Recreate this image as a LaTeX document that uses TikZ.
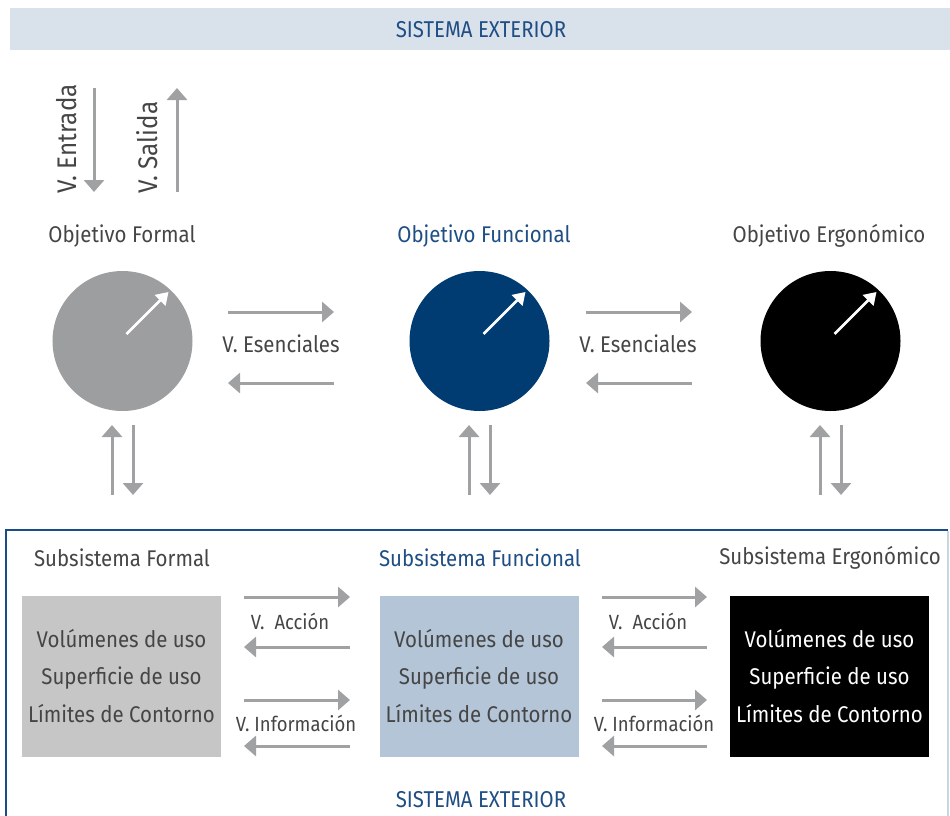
\documentclass[tikz,border=0pt]{standalone}
\usepackage{fontspec}
\setmainfont{Fira Sans}[FakeStretch=0.9]
\newfontfamily\condfont{Fira Sans}[FakeStretch=0.89]
\usetikzlibrary{arrows.meta}
\definecolor{txtgray}{HTML}{454545}
\definecolor{txtblue}{HTML}{1F4E84}
\definecolor{arrgray}{HTML}{A0A1A3}
\definecolor{bandblue}{HTML}{D9E1EA}
\definecolor{circgray}{HTML}{9D9EA0}
\definecolor{circblue}{HTML}{003B72}
\definecolor{rectgray}{HTML}{C6C6C7}
\definecolor{rectblue}{HTML}{B3C5D7}
\definecolor{frameblue}{HTML}{1A4C85}
\definecolor{framelight}{HTML}{CBD5E0}
\tikzset{
  garrow/.style={draw=arrgray, line width=3bp, -{Triangle[length=12bp,width=20bp]}},
  warrow/.style={draw=white, line width=2.5bp, -{Triangle[length=12bp,width=15bp]}},
  lbl/.style={text=txtgray, font=\fontsize{22.8}{27}\selectfont, inner sep=0pt},
  lblblue/.style={lbl, text=txtblue},
  rot/.style={text=txtgray, font=\fontsize{27}{30}\selectfont, inner sep=0pt, rotate=90, anchor=base west},
  small/.style={text=txtgray, font=\fontsize{20.6}{24}\selectfont, inner sep=0pt},
  head/.style={text=txtblue, font=\condfont\fontsize{23}{27}\selectfont, inner sep=0pt},
  obj/.style={circle, minimum size=140bp, inner sep=0pt},
  sub/.style={minimum width=199bp, minimum height=161bp, inner sep=0pt, align=center,
     font=\fontsize{22.8}{38}\selectfont},
}
\begin{document}
\begin{tikzpicture}[x=1bp,y=-1bp]
\useasboundingbox (0,0) rectangle (950,816);
% top band
\fill[bandblue] (10,8) rectangle (950,50);
\node[head] (top) at (481,30) {SISTEMA EXTERIOR};
% lower frame
\draw[frameblue, line width=2bp] (6,816) -- (6,530) -- (948,530);
\draw[framelight, line width=1.5bp] (948,531) -- (948,816);
\node[head] (bot) at (481,800) {SISTEMA EXTERIOR};

% entrada/salida
\coordinate (e1) at (94,88); \coordinate (e2) at (94,192);
\coordinate (s1) at (177,192); \coordinate (s2) at (177,88);
\draw[garrow] (e1) -- (e2);
\draw[garrow] (s1) -- (s2);
\node[rot] (ent) at (76,194) {V. Entrada};
\node[rot] (sal) at (157,194) {V. Salida};

% objective titles
\node[lbl] (tF) at (122,236) {Objetivo Formal};
\node[lblblue] (tFu) at (484,236) {Objetivo Funcional};
\node[lbl] (tE) at (829,236) {Objetivo Ergonómico};

% circles
\node[obj, fill=circgray] (cF) at (122.5,341) {};
\node[obj, fill=circblue] (cFu) at (479.5,341) {};
\node[obj, fill=black] (cE) at (830.5,341) {};
\foreach \c in {cF,cFu,cE}{
  \draw[warrow] ([shift={(4,-7)}]\c.center) -- ([shift={(46,-49)}]\c.center);
}

% esenciales arrows
\coordinate (a1) at (228,312); \coordinate (a2) at (334,312);
\coordinate (a3) at (334,383); \coordinate (a4) at (228,383);
\draw[garrow] (a1) -- (a2);
\draw[garrow] (a3) -- (a4);
\node[lbl] (es1) at (281,344) {V. Esenciales};
\coordinate (b1) at (586,312); \coordinate (b2) at (692,312);
\coordinate (b3) at (692,383); \coordinate (b4) at (586,383);
\draw[garrow] (b1) -- (b2);
\draw[garrow] (b3) -- (b4);
\node[lbl] (es2) at (638,344) {V. Esenciales};

% vertical pairs
\foreach \x/\n in {112/F,469/Fu,820/E}{
  \coordinate (u\n1) at (\x,495); \coordinate (u\n2) at (\x,425);
  \coordinate (d\n1) at (\x+21,425); \coordinate (d\n2) at (\x+21,495);
  \draw[garrow] (u\n1) -- (u\n2);
  \draw[garrow] (d\n1) -- (d\n2);
}

% subsystem titles
\node[lbl] (sF) at (122,558) {Subsistema Formal};
\node[lblblue] (sFu) at (480,558) {Subsistema Funcional};
\node[lbl] (sE) at (830,558) {Subsistema Ergonómico};

% subsystem boxes
\node[sub, fill=rectgray, text=txtgray] (rF) at (121.5,676) {Volúmenes de uso\\Superficie de uso\\Límites de Contorno};
\node[sub, fill=rectblue, text=txtgray] (rFu) at (479,676) {Volúmenes de uso\\Superficie de uso\\Límites de Contorno};
\node[sub, fill=black, text=white] (rE) at (829.5,676) {Volúmenes de uso\\Superficie de uso\\Límites de Contorno};

% accion / informacion arrows
\foreach \xa/\xb/\n in {244/350/1,602/707/2}{
  \coordinate (p\n1) at (\xa,597); \coordinate (p\n2) at (\xb,597);
  \coordinate (p\n3) at (\xb,647); \coordinate (p\n4) at (\xa,647);
  \coordinate (q\n1) at (\xa,700); \coordinate (q\n2) at (\xb,700);
  \coordinate (q\n3) at (\xb,746); \coordinate (q\n4) at (\xa,746);
  \draw[garrow] (p\n1) -- (p\n2);
  \draw[garrow] (p\n3) -- (p\n4);
  \draw[garrow] (q\n1) -- (q\n2);
  \draw[garrow] (q\n3) -- (q\n4);
}
\node[small] (ac1) at (290,621) {V.\hspace{10bp}Acción};
\node[small] (in1) at (296,723) {V. Información};
\node[small] (ac2) at (648,621) {V.\hspace{10bp}Acción};
\node[small] (in2) at (654,723) {V. Información};
\end{tikzpicture}
\end{document}
